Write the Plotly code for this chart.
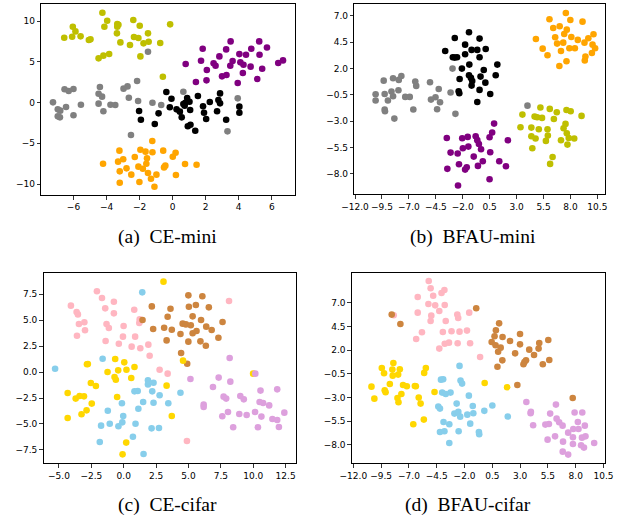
import plotly.graph_objects as go

# ---------------- Panel (a) CE-mini ----------------
a_olive_x = [-4.25,-3.96,-4.13,-3.35,-3.28,-3.35,-2.38,-1.99,-3.37,-3.16,-2.58,-2.34,-2.07,-1.76,-1.49,-1.45,-0.75,-0.15,-1.95,-3.84,-4.19,-4.48,-6.04,-5.88,-6.08,-6.56,-5.57,-5.07,-4.97,-0.59]
a_olive_y = [11.02,10.04,9.30,9.63,9.55,9.30,10.12,9.42,8.49,7.38,7.06,8.04,7.91,7.26,8.49,7.46,7.30,9.59,5.66,5.95,5.75,5.42,9.30,8.73,8.08,7.95,8.12,7.67,7.75,3.17]
a_gray_x = [-1.49,-7.24,-6.95,-6.80,-6.95,-6.82,-6.45,-6.00,-5.55,-6.54,-6.29,-6.00,-4.40,-4.48,-4.27,-4.48,-4.19,-3.76,-3.47,-2.97,-2.73,-2.65,-2.15,-2.09,-2.52,-1.22,-0.69,0.65,3.94,3.32]
a_gray_y = [6.23,0.02,-0.84,-1.00,-1.70,-1.82,-0.55,-1.57,-0.27,1.62,1.41,1.66,1.90,1.08,0.72,-0.14,-1.08,-0.27,-0.31,1.70,1.98,0.59,2.64,0.18,-3.99,-0.02,-0.31,1.33,0.51,-3.54]
a_black_x = [-0.38,-0.07,-0.17,0.24,0.44,0.55,0.65,0.73,0.77,0.88,1.02,1.06,0.92,1.08,1.37,1.53,1.84,1.90,2.03,2.25,2.69,2.77,2.87,2.87,3.24,4.04,4.04,-2.03,-1.92,-1.08,-0.85]
a_black_y = [1.29,0.47,-0.59,-0.84,-1.12,-1.82,-0.18,-0.39,-0.02,0.55,0.10,-0.92,-2.92,-2.72,-3.46,0.80,-0.47,-1.25,-2.02,0.06,-1.08,0.31,-0.10,1.12,-2.11,-0.51,-1.25,-1.04,-2.11,-2.64,-1.33]
a_purple_x = [3.51,5.24,5.71,4.76,1.82,3.24,4.04,4.44,5.26,2.83,3.63,1.72,0.79,2.48,2.60,3.49,4.10,4.29,4.72,5.42,2.07,4.25,2.99,3.26,2.05,1.41,3.94,5.12,6.39,6.68]
a_purple_y = [7.50,7.50,6.76,6.60,6.60,6.52,5.94,5.86,5.86,5.66,5.09,5.13,4.72,4.81,4.52,4.52,4.93,4.64,4.40,4.15,3.99,3.62,3.21,3.37,2.72,2.52,2.39,2.88,4.85,5.17]
a_orange_x = [-1.23,-3.22,-1.95,-1.64,-1.22,-0.57,-2.99,-3.30,-2.29,-1.55,-1.59,-2.07,-1.80,-2.79,-3.20,-4.21,-2.50,-1.49,-0.98,-1.31,-3.20,-2.01,-1.10,-0.44,-0.52,0.18,0.01,0.75,1.45,0.20]
a_orange_y = [-4.72,-5.91,-5.79,-6.03,-6.11,-5.91,-6.97,-7.26,-6.69,-6.85,-7.51,-7.87,-8.12,-8.08,-8.45,-7.51,-8.85,-8.65,-8.85,-9.35,-9.84,-9.75,-10.33,-7.75,-7.96,-6.16,-6.65,-7.55,-7.63,-8.90]

# ---------------- Panel (b) BFAU-mini ----------------
b_gray_x = [-9.34,-8.47,-7.94,-7.70,-6.41,-6.32,-5.04,-4.23,-10.09,-10.09,-9.25,-8.95,-8.62,-8.47,-7.97,-7.34,-6.92,-9.25,-9.22,-8.35,-6.59,-4.95,-4.53,-4.11,-4.38,-3.13,-2.68,-2.95,4.01]
b_gray_y = [0.84,1.06,0.91,1.28,0.75,0.34,0.68,0.05,-0.45,-1.05,-0.42,-1.05,-0.20,-0.64,-0.07,-0.70,-0.70,-1.90,-2.06,-2.76,-1.90,-0.96,-0.74,-1.21,-1.87,-0.29,-2.31,1.98,-1.53]
b_black_x = [-1.42,-2.74,-1.78,-0.44,-3.63,-1.18,-0.65,-1.78,-2.92,-2.74,-2.53,-0.44,-1.39,-2.08,-1.42,-1.24,-1.12,-2.29,-0.35,-1.18,-2.38,-2.32,-0.44,-0.65,0.13,1.21,-0.05,1.06,0.10,0.55]
b_black_y = [5.42,4.88,4.25,4.82,3.65,3.75,3.75,3.34,3.05,3.02,3.05,3.05,2.36,1.98,1.35,1.10,0.81,1.00,1.22,0.37,-0.17,-0.36,-0.04,-1.18,3.84,2.36,1.85,1.35,0.65,-0.42]
b_purple_x = [-3.48,-2.05,-1.54,-0.80,-0.65,-0.50,-1.99,-1.48,-0.30,-3.13,-2.47,-0.98,-2.35,-1.63,-1.78,-0.59,-3.43,-2.44,0.91,0.73,0.49,2.19,0.55,-0.14,1.39,2.01,0.49]
b_purple_y = [-4.59,-4.62,-4.49,-4.43,-4.80,-5.16,-5.57,-5.41,-5.66,-5.98,-6.07,-6.36,-7.08,-7.37,-7.59,-7.24,-7.52,-9.10,-3.23,-4.08,-4.53,-4.81,-5.95,-6.80,-6.80,-7.27,-8.50]
b_orange_x = [7.57,6.05,7.99,9.12,6.40,7.00,7.66,7.42,6.58,8.08,8.68,9.66,10.14,4.79,6.76,7.33,9.30,10.05,5.42,7.12,7.90,8.41,10.29,9.99,5.87,9.39,9.33,7.63,6.97]
b_orange_y = [7.25,6.65,6.59,6.43,5.83,5.99,5.67,5.26,4.95,4.98,4.70,4.85,5.23,4.79,4.35,4.44,4.44,4.25,3.87,3.65,3.91,3.91,3.91,3.46,3.24,3.12,2.74,2.67,2.23]
b_olive_x = [5.21,6.08,6.73,7.63,8.02,9.03,3.54,4.67,4.91,5.36,6.46,7.54,7.36,3.36,4.37,5.06,5.87,7.66,5.90,4.37,4.76,5.72,7.12,7.84,8.35,7.72,4.46,6.34,6.11]
b_olive_y = [-1.71,-1.84,-2.16,-1.94,-2.06,-2.50,-2.38,-2.57,-2.63,-2.69,-2.79,-3.26,-3.67,-3.58,-3.61,-3.77,-3.77,-4.15,-4.37,-4.43,-4.65,-4.87,-4.81,-4.59,-4.65,-5.22,-5.57,-6.39,-7.05]

# ---------------- Panel (c) CE-cifar ----------------
c_pink_x = [-2.07,-1.68,-4.08,-0.76,-1.43,-0.76,-3.64,-3.54,0.81,1.23,1.20,-3.46,-3.04,-1.33,-1.15,-0.01,-2.99,-3.61,-0.06,0.88,-1.40,-0.38,0.61,1.28,1.90,2.00,2.77,3.39,8.13,4.88]
c_pink_y = [7.76,7.12,6.38,6.76,6.12,5.64,5.77,5.54,5.99,5.06,4.71,4.62,4.78,4.62,4.23,4.42,4.01,3.49,3.40,3.40,2.98,2.72,2.44,2.28,2.63,1.57,0.22,-0.16,6.83,-6.63]
c_peru_x = [2.17,3.61,1.45,3.39,2.27,3.12,3.71,3.31,4.99,6.07,5.03,5.57,6.57,5.32,5.97,7.63,4.55,4.80,5.18,6.37,6.79,4.38,5.32,5.62,7.31,4.99,5.92,6.34,4.43,4.90]
c_peru_y = [6.31,6.09,5.00,5.32,4.13,4.26,4.07,3.04,7.37,7.28,6.28,6.44,6.22,5.35,5.00,4.81,4.65,4.58,4.49,4.36,4.04,3.65,3.72,3.94,3.30,2.92,2.95,2.53,1.83,0.80]
c_gold_x = [3.07,-2.84,-2.77,-0.66,0.04,-1.25,-0.43,0.21,0.83,-0.71,-0.61,0.58,-2.54,-2.15,-4.33,-3.71,-3.41,-3.07,-2.47,-0.51,3.31,-4.33,-3.26,-2.87,3.71,0.19,-0.09,4.58,9.99]
c_gold_y = [8.69,0.74,0.77,1.25,0.93,0.00,0.16,0.22,0.48,-0.48,-0.74,-0.58,-1.06,-1.35,-2.02,-2.56,-2.31,-2.34,-3.04,-2.40,-1.31,-4.42,-4.07,-3.69,-4.23,-6.79,-7.92,1.09,-0.16]
c_sky_x = [1.43,-5.30,-1.63,1.87,1.87,2.30,0.83,1.08,2.20,2.77,1.50,2.30,3.44,-0.14,1.13,-1.23,-0.04,-0.11,-0.41,0.91,-1.08,-1.75,2.15,2.72,0.71,-1.85,1.53,4.38]
c_sky_y = [7.66,0.32,1.28,-0.80,-1.19,-1.03,-1.86,-1.83,-1.86,-2.24,-2.88,-2.95,-3.01,-3.01,-3.53,-3.72,-4.23,-4.84,-5.22,-4.97,-4.97,-5.16,-5.42,-5.38,-6.22,-6.73,-7.88,-1.99]
c_plum_x = [8.18,5.15,7.33,8.23,10.16,6.89,10.56,11.85,7.71,7.91,9.00,9.27,6.17,6.17,10.49,10.76,11.23,8.05,7.61,8.92,9.49,10.14,10.63,11.48,11.85,12.40,8.45,10.36,11.98]
c_plum_y = [1.35,-0.67,-0.54,-0.93,-0.16,-1.44,-1.79,-1.67,-2.37,-2.56,-2.31,-2.63,-3.14,-3.37,-2.88,-2.98,-3.21,-3.85,-4.26,-4.04,-4.13,-3.85,-4.29,-4.52,-4.62,-3.91,-5.32,-5.32,-5.29]

# ---------------- Panel (d) BFAU-cifar ----------------
d_pink_x = [-5.22,-5.05,-6.21,-4.82,-4.07,-3.81,-5.25,-4.64,-3.78,-6.21,-4.27,-4.99,-5.05,-8.37,-2.65,-2.57,-1.58,-3.69,-5.83,-6.35,-3.95,-3.17,-2.45,-1.78,-3.78,-3.40,-2.62,-1.50,-4.27,-0.60]
d_pink_y = [9.32,8.55,7.63,7.77,8.06,8.37,6.89,6.75,6.79,5.98,6.15,5.66,5.10,5.70,5.77,5.42,5.98,5.10,3.90,3.20,3.94,4.01,3.97,4.08,2.70,2.81,2.74,2.74,2.18,1.30]
d_peru_x = [-8.55,-7.77,-0.95,1.11,0.82,0.70,1.42,2.99,0.44,0.79,1.25,2.09,2.99,1.02,2.55,3.82,4.72,4.66,5.53,4.25,3.53,3.39,3.30,1.40,0.96,5.04,5.62,2.75,7.73]
d_peru_y = [5.77,4.78,6.44,4.85,4.11,3.48,3.41,3.73,2.88,2.53,2.28,2.99,2.63,1.84,1.68,2.07,2.77,2.18,3.09,1.51,0.94,0.77,0.52,0.94,0.27,0.52,0.98,-1.66,-3.04]
d_gold_x = [-8.40,-9.44,-9.24,-8.49,-7.82,-8.46,-7.97,-5.48,-5.63,-8.72,-10.37,-9.18,-9.10,-7.53,-7.19,-6.47,-6.38,-7.68,-8.03,-7.94,-10.11,-4.70,-6.12,-5.95,-5.66,-6.61,-0.19,1.83]
d_gold_y = [0.66,0.13,-0.43,-0.04,-0.01,-0.68,-0.57,0.13,-0.39,-1.56,-1.84,-2.23,-2.44,-1.66,-1.80,-1.77,-1.80,-2.61,-3.04,-3.49,-3.11,-2.40,-3.00,-3.63,-5.32,-5.82,-1.45,-1.91]
d_sky_x = [-2.45,-4.12,-3.92,-2.36,-2.22,-4.01,-3.69,-3.26,-1.61,-4.36,-4.21,-2.71,-2.91,-2.56,-2.39,-1.75,-1.26,-1.21,-3.89,-3.37,-1.49,-4.21,-3.81,-2.53,-0.71,-0.68,-3.37,0.50,-0.22,1.89]
d_sky_y = [0.35,-1.10,-1.06,-1.20,-1.52,-2.47,-2.61,-2.47,-2.79,-3.95,-4.16,-3.63,-4.69,-4.51,-5.01,-4.80,-3.88,-4.65,-5.57,-5.82,-5.75,-6.63,-6.56,-6.56,-6.63,-6.87,-7.79,-3.84,-4.40,-4.99]
d_plum_x = [3.56,3.97,3.94,6.22,4.17,5.70,6.28,6.51,6.82,5.27,5.59,7.90,8.59,8.19,7.78,8.25,8.82,7.32,6.14,5.47,6.86,7.75,7.75,8.56,8.88,8.48,8.74,9.66,6.83,7.32]
d_plum_y = [-3.46,-4.51,-4.64,-3.74,-5.92,-4.69,-5.22,-5.61,-5.96,-5.85,-5.78,-4.58,-4.58,-5.57,-6.31,-6.31,-5.96,-6.70,-7.09,-7.44,-7.65,-7.19,-7.90,-7.23,-7.09,-8.03,-8.28,-7.79,-8.71,-9.02]

# ---------------- ticks & captions ----------------
a_xticks = [-6, -4, -2, 0, 2, 4, 6]
a_xlabels = ["\u22126", "\u22124", "\u22122", "0", "2", "4", "6"]
a_yticks = [-10, -5, 0, 5, 10]
a_ylabels = ["\u221210", "\u22125", "0", "5", "10"]
b_xticks = [-12.0, -9.5, -7.0, -4.5, -2.0, 0.5, 3.0, 5.5, 8.0, 10.5]
b_yticks = [-8.0, -5.5, -3.0, -0.5, 2.0, 4.5, 7.0]
c_xticks = [-5.0, -2.5, 0.0, 2.5, 5.0, 7.5, 10.0, 12.5]
c_yticks = [-7.5, -5.0, -2.5, 0.0, 2.5, 5.0, 7.5]
d_xticks = [-12.0, -9.5, -7.0, -4.5, -2.0, 0.5, 3.0, 5.5, 8.0, 10.5]
d_yticks = [-8.0, -5.5, -3.0, -0.5, 2.0, 4.5, 7.0]
captions = ["(a)\u00a0\u00a0CE-mini", "(b)\u00a0\u00a0BFAU-mini", "(c)\u00a0\u00a0CE-cifar", "(d)\u00a0\u00a0BFAU-cifar"]


def fmt(v):
    s = f"{v:.1f}"
    return s.replace("-", "\u2212")


fig = go.Figure()

MS = 6.6


def add(xs, ys, color, ax):
    fig.add_trace(go.Scatter(x=xs, y=ys, mode="markers",
                             marker=dict(size=MS, color=color, line=dict(width=0)),
                             xaxis="x" + ax, yaxis="y" + ax, showlegend=False,
                             hoverinfo="skip"))


OLIVE, GRAY, BLACK, PURPLE, ORANGE = "#bfbf00", "#808080", "#000000", "#800080", "#ffa500"
PINK, PERU, GOLD, SKY, PLUM = "#ffb6c1", "#cd853f", "#ffd700", "#87ceeb", "#dda0dd"

add(a_olive_x, a_olive_y, OLIVE, "")
add(a_gray_x, a_gray_y, GRAY, "")
add(a_black_x, a_black_y, BLACK, "")
add(a_purple_x, a_purple_y, PURPLE, "")
add(a_orange_x, a_orange_y, ORANGE, "")

add(b_gray_x, b_gray_y, GRAY, "2")
add(b_black_x, b_black_y, BLACK, "2")
add(b_purple_x, b_purple_y, PURPLE, "2")
add(b_orange_x, b_orange_y, ORANGE, "2")
add(b_olive_x, b_olive_y, OLIVE, "2")

add(c_pink_x, c_pink_y, PINK, "3")
add(c_peru_x, c_peru_y, PERU, "3")
add(c_gold_x, c_gold_y, GOLD, "3")
add(c_sky_x, c_sky_y, SKY, "3")
add(c_plum_x, c_plum_y, PLUM, "3")

add(d_pink_x, d_pink_y, PINK, "4")
add(d_peru_x, d_peru_y, PERU, "4")
add(d_gold_x, d_gold_y, GOLD, "4")
add(d_sky_x, d_sky_y, SKY, "4")
add(d_plum_x, d_plum_y, PLUM, "4")

W, H = 618, 521
TF = dict(family="DejaVu Sans", size=9, color="black")


def axis(domain, rng, tv, tt, anchor):
    return dict(domain=domain, range=rng, tickvals=tv, ticktext=tt, anchor=anchor,
                showline=True, linecolor="black", linewidth=1, mirror=True,
                ticks="outside", ticklen=3.5, tickwidth=0.8, tickcolor="black",
                showgrid=False, zeroline=False, tickfont=TF, fixedrange=True,
                ticklabeloverflow="allow")


def px_x(a, b):
    return [a / W, b / W]


def px_y(top, bottom):
    return [1 - bottom / H, 1 - top / H]


fig.update_layout(
    width=W, height=H, margin=dict(l=0, r=0, t=0, b=0),
    paper_bgcolor="white", plot_bgcolor="white", hovermode=False,
    xaxis=axis(px_x(29.3, 292.3), [-7.95, 7.4], a_xticks, a_xlabels, "y"),
    yaxis=axis(px_y(4, 195), [-11.35, 12.09], a_yticks, a_ylabels, "x"),
    xaxis2=axis(px_x(354, 614), [-12.06, 11.22], b_xticks, [fmt(v) for v in b_xticks], "y2"),
    yaxis2=axis(px_y(4, 194.3), [-9.93, 8.1], b_yticks, [fmt(v) for v in b_yticks], "x2"),
    xaxis3=axis(px_x(31.7, 293.3), [-6.19, 13.29], c_xticks, [fmt(v) for v in c_xticks], "y3"),
    yaxis3=axis(px_y(272.7, 463.3), [-8.78, 9.55], c_yticks, [fmt(v) for v in c_yticks], "x3"),
    xaxis4=axis(px_x(351.3, 613.7), [-12.14, 10.62], d_xticks, [fmt(v) for v in d_xticks], "y4"),
    yaxis4=axis(px_y(272.7, 463.3), [-9.94, 10.2], d_yticks, [fmt(v) for v in d_yticks], "x4"),
)

cap_pos = [(160, 237), (477, 237), (160, 505), (472, 505)]
for text, (cx, cy) in zip(captions, cap_pos):
    fig.add_annotation(x=cx / W, y=1 - cy / H, xref="paper", yref="paper",
                       text=text, showarrow=False, xanchor="center", yanchor="middle",
                       font=dict(family="Liberation Serif", size=19.5, color="black"))

fig.write_html("out.html", config={"displayModeBar": False, "staticPlot": True},
               post_script="document.body.style.margin='0';document.body.style.overflow='hidden';")
